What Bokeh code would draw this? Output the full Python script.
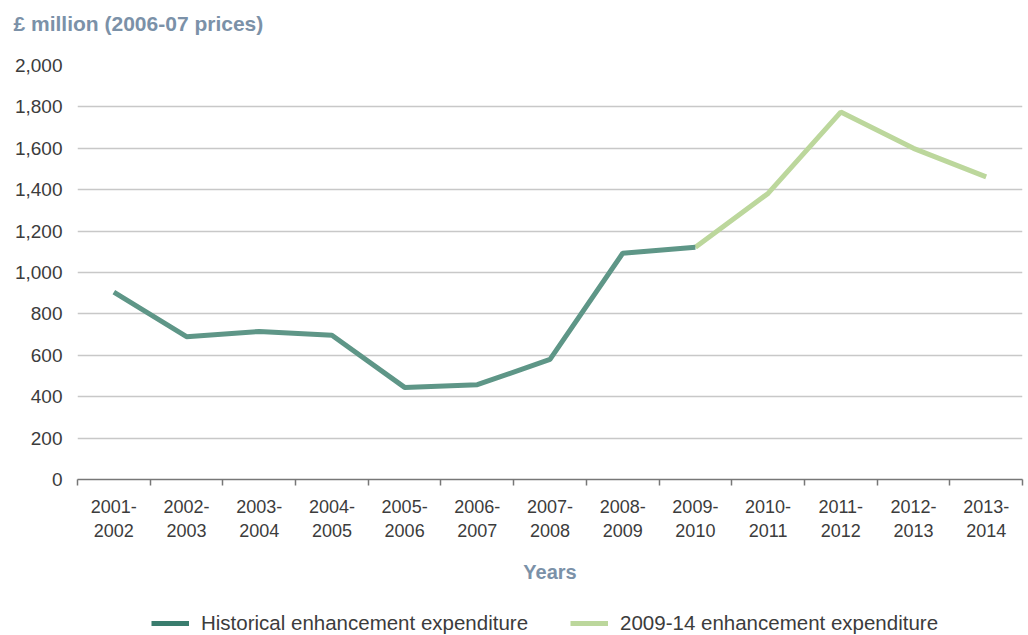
from bokeh.plotting import figure
from bokeh.layouts import column
from bokeh.models import (ColumnDataSource, FixedTicker, Legend, LegendItem,
                          Title, NumeralTickFormatter)
from bokeh.embed import file_html
from bokeh.resources import INLINE

categories = ["2001-\n2002", "2002-\n2003", "2003-\n2004", "2004-\n2005", "2005-\n2006",
              "2006-\n2007", "2007-\n2008", "2008-\n2009", "2009-\n2010", "2010-\n2011",
              "2011-\n2012", "2012-\n2013", "2013-\n2014"]
historical = [905, 690, 715, 697, 445, 458, 580, 1093, 1122]
plan_2009_14 = [1122, 1382, 1775, 1600, 1462]
hist_idx = list(range(0, 9))
plan_idx = list(range(8, 13))
y_ticks = [0, 200, 400, 600, 800, 1000, 1200, 1400, 1600, 1800, 2000]

FONT = "Liberation Sans"
TXT = "#3c3c3c"
BLUEGREY = "#7b91a8"
C_HIST = "#5e9687"
C_HIST_LEG = "#3a7d6e"
C_PLAN = "#bcd79c"


def strip(h):
    f = figure(width=1028, height=h, output_backend="svg", toolbar_location=None,
               x_range=(0, 1), y_range=(0, 1), x_axis_location=None, y_axis_location=None,
               min_border=0, min_border_left=0, min_border_right=0,
               min_border_top=0, min_border_bottom=0)
    f.outline_line_color = None
    f.xgrid.visible = False
    f.ygrid.visible = False
    return f


# title strip
ts = strip(53)
ts.add_layout(Title(text="£ million (2006-07 prices)", align="left", offset=-64,
                    text_font=FONT, text_font_size="21px", text_font_style="bold",
                    text_color=BLUEGREY, standoff=19), "above")

p = figure(width=1028, height=542, output_backend="svg", toolbar_location=None,
           x_range=(0, len(categories)), y_range=(0, 2000),
           min_border_left=77, min_border_right=6, min_border_top=12, min_border_bottom=116)
p.outline_line_color = None
p.background_fill_color = "white"

src_h = ColumnDataSource(dict(x=[i + 0.5 for i in hist_idx], y=historical))
src_p = ColumnDataSource(dict(x=[i + 0.5 for i in plan_idx], y=plan_2009_14))
r_p = p.line("x", "y", source=src_p, line_color=C_PLAN, line_width=5)
r_h = p.line("x", "y", source=src_h, line_color=C_HIST, line_width=5)

# x axis
xa = p.xaxis[0]
xa.ticker = FixedTicker(ticks=[i + 0.5 for i in range(len(categories))],
                        minor_ticks=list(range(len(categories) + 1)))
xa.major_label_overrides = {i + 0.5: c for i, c in enumerate(categories)}
xa.major_tick_line_color = None
xa.major_tick_out = 0
xa.major_tick_in = 0
xa.minor_tick_out = 6
xa.minor_tick_in = 0
xa.minor_tick_line_color = "#777777"
xa.minor_tick_line_width = 1.5
xa.axis_line_color = "#777777"
xa.axis_line_width = 1.5
xa.major_label_text_font = FONT
xa.major_label_text_font_size = "18px"
xa.major_label_text_color = TXT
xa.major_label_standoff = 11
xa.axis_label = "Years"
xa.axis_label_text_font = FONT
xa.axis_label_text_font_size = "20px"
xa.axis_label_text_font_style = "bold"
xa.axis_label_text_color = BLUEGREY
xa.axis_label_standoff = 17

# y axis
ya = p.yaxis[0]
ya.ticker = FixedTicker(ticks=y_ticks)
ya.formatter = NumeralTickFormatter(format="0,0")
ya.axis_line_color = None
ya.major_tick_line_color = None
ya.minor_tick_line_color = None
ya.major_tick_out = 0
ya.major_tick_in = 0
ya.major_label_text_font = FONT
ya.major_label_text_font_size = "19px"
ya.major_label_text_color = TXT
ya.major_label_standoff = 15

p.xgrid.grid_line_color = None
p.ygrid.grid_line_color = "#c8c8c8"
p.ygrid.grid_line_width = 1.5

# legend strip (separate figure so the legend is not clipped by the main frame)
lg = strip(40)
# these share the data sources; their points lie outside this strip's ranges
lh = lg.line("x", "y", source=src_h, line_color=C_HIST_LEG, line_width=5)
lp = lg.line("x", "y", source=src_p, line_color=C_PLAN, line_width=5)

legend = Legend(items=[LegendItem(label="Historical enhancement expenditure", renderers=[lh]),
                       LegendItem(label="2009-14 enhancement expenditure", renderers=[lp])],
                orientation="horizontal", location=(74, 0),
                label_text_font=FONT, label_text_font_size="20.5px", label_text_color=TXT,
                glyph_width=38, glyph_height=16, label_height=16, spacing=42, label_standoff=12,
                border_line_color=None, background_fill_alpha=0, padding=0, margin=0)
lg.add_layout(legend, "center")

layout = column(ts, p, lg, spacing=0)
open("out.html", "w").write(file_html(layout, INLINE))
